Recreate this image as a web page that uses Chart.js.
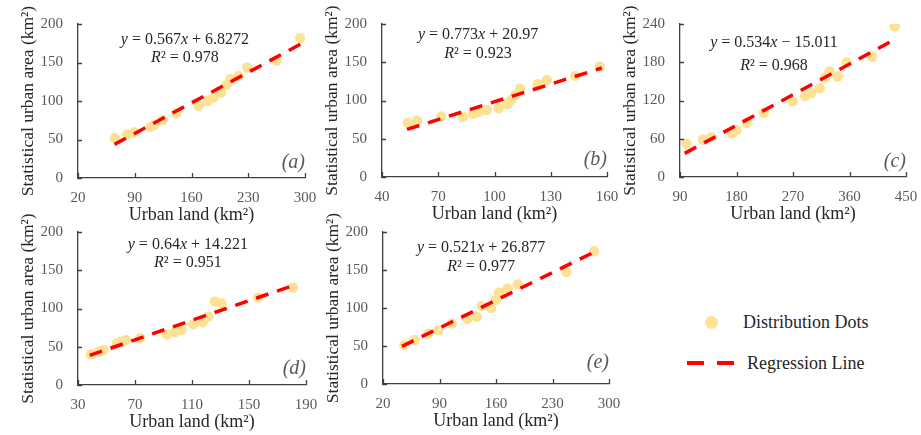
<!DOCTYPE html>
<html>
<head>
<meta charset="utf-8">
<script src="https://cdn.jsdelivr.net/npm/chart.js@4.4.0/dist/chart.umd.min.js"></script>
<style>
  body { margin: 0; background: #fff; }
  #wrap { position: relative; width: 921px; height: 435px; overflow: hidden; font-family: "Liberation Serif", "Times New Roman", serif; color: #262626; }
  canvas { position: absolute; }
  .lg { position: absolute; font-size: 18px; line-height: 20px; white-space: nowrap; }
  .dot { position: absolute; width: 13px; height: 13px; border-radius: 50%; background: #ffe194; }
  .dash { position: absolute; height: 4px; background: #ff0000; }
</style>
</head>
<body>
<div id="wrap">
  <canvas id="pa"></canvas>
  <canvas id="pb"></canvas>
  <canvas id="pc"></canvas>
  <canvas id="pd"></canvas>
  <canvas id="pe"></canvas>
  <div class="dot" style="left:705px; top:316px;"></div>
  <div class="lg" style="left:743px; top:312px;">Distribution Dots</div>
  <div class="dash" style="left:687px; top:361px; width:17px;"></div>
  <div class="dash" style="left:717px; top:361px; width:17px;"></div>
  <div class="lg" style="left:747px; top:353px;">Regression Line</div>
</div>
<script>
// (a)
const xA = [65.5, 80.8, 89.5, 109.7, 113.9, 124.6, 141.2, 168.9, 180, 187.5, 196.6, 203.2, 208.2, 218.1, 228.9, 264.8, 294.2];
const yA = [52, 56.5, 59.6, 66.5, 68.7, 75.2, 83.9, 93.9, 100, 104.8, 110.9, 120.9, 128.7, 132.6, 143.5, 152.2, 181.7];
const lineXA = [65, 295];
const lineYA = [43.7, 174.1];
const xTicksA = [20, 90, 160, 230, 300];
const yTicksA = [0, 50, 100, 150, 200];

// (b)
const xB = [53.7, 58.8, 71.6, 83.1, 88.5, 91.5, 95.9, 102.1, 106.6, 108.9, 111, 113.7, 123.1, 127.9, 143, 156.1];
const yB = [70.9, 73.5, 79.2, 78.8, 82.7, 84.9, 87.5, 89.7, 95.4, 100.6, 107.2, 115.5, 121.2, 126.9, 132.2, 144.4];
const lineXB = [53.3, 157.2];
const lineYB = [62.2, 142.5];
const xTicksB = [40, 70, 100, 130, 160];
const yTicksB = [0, 50, 100, 150, 200];

// (c)
const xC = [100.1, 126.7, 140, 173, 180, 196.5, 223.7, 269.5, 289.2, 298.8, 312.6, 321.1, 328, 341.3, 355.7, 395.6, 431.8];
const yC = [52.5, 58.8, 63, 68.3, 73.5, 85.1, 100.8, 118.2, 127.1, 131.3, 139.2, 156, 165.4, 157.6, 179.6, 189.1, 236.3];
const lineXC = [97.5, 427.6];
const lineYC = [37.1, 213.3];
const xTicksC = [90, 180, 270, 360, 450];
const yTicksC = [0, 60, 120, 180, 240];

// (d)
const xD = [39.1, 44.5, 48, 57.3, 60.8, 63.8, 73.6, 92.3, 98.1, 102.8, 110.9, 117.5, 121.4, 126.1, 130.7, 156.4, 180.9];
const yD = [40.2, 43.7, 45.9, 54.6, 56.8, 59, 61.1, 66.4, 69, 72, 79.5, 82.1, 89.5, 109.2, 107, 114.4, 127.5];
const lineXD = [38.2, 182];
const lineYD = [38.7, 130.7];
const xTicksD = [30, 70, 110, 150, 190];
const yTicksD = [0, 50, 100, 150, 200];

// (e)
const xE = [46.4, 59.1, 76.4, 88.8, 105.2, 124.6, 136.1, 142.3, 153.8, 159.6, 163.7, 174.4, 186.8, 247.3, 281.5];
const yE = [51.2, 57.8, 66.5, 70.9, 79.6, 85.3, 88.4, 102.8, 100.2, 110.3, 120.3, 125.6, 131.3, 147.5, 174.6];
const lineXE = [43.5, 279];
const lineYE = [49.5, 172.2];
const xTicksE = [20, 90, 160, 230, 300];
const yTicksE = [0, 50, 100, 150, 200];

const equations = ['y = 0.567x + 6.8272', 'y = 0.773x + 20.97', 'y = 0.534x \u2212 15.011', 'y = 0.64x + 14.221', 'y = 0.521x + 26.877'];
const rSquared = ['R\u00b2 = 0.978', 'R\u00b2 = 0.923', 'R\u00b2 = 0.968', 'R\u00b2 = 0.951', 'R\u00b2 = 0.977'];
const tags = ['(a)', '(b)', '(c)', '(d)', '(e)'];

const FONT = '"Liberation Serif", "Times New Roman", serif';
Chart.defaults.font.family = FONT;
const AXIS_W = 78, AXIS_H = 48, PAD_T = 24, PAD_R = 14;

// chart area boxes and text spots (layout only)
const panels = [
  { id: 'pa', area: [78, 24, 305, 178], x: xA, y: yA, lx: lineXA, ly: lineYA, xt: xTicksA, yt: yTicksA, eq: [0.471, 16, 34], tagDy: 15 },
  { id: 'pb', area: [382, 24, 607, 177], x: xB, y: yB, lx: lineXB, ly: lineYB, xt: xTicksB, yt: yTicksB, eq: [0.427, 11, 30], tagDy: 17 },
  { id: 'pc', area: [680, 24, 906, 177], x: xC, y: yC, lx: lineXC, ly: lineYC, xt: xTicksC, yt: yTicksC, eq: [0.416, 19, 41.5], tagDy: 15.5 },
  { id: 'pd', area: [78, 232, 306, 385], x: xD, y: yD, lx: lineXD, ly: lineYD, xt: xTicksD, yt: yTicksD, eq: [0.482, 12.5, 31], tagDy: 16.5 },
  { id: 'pe', area: [383, 232, 609, 384], x: xE, y: yE, lx: lineXE, ly: lineYE, xt: xTicksE, yt: yTicksE, eq: [0.434, 15.5, 34.5], tagDy: 21 }
];

function drawRich(ctx, text, cx, cy, size) {
  const parts = [];
  for (const ch of text) {
    const it = /[xyR]/.test(ch);
    const last = parts[parts.length - 1];
    if (last && last.it === it) last.t += ch; else parts.push({ t: ch, it });
  }
  const fn = size + 'px ' + FONT, fi = 'italic ' + fn;
  let w = 0;
  parts.forEach(p => { ctx.font = p.it ? fi : fn; p.w = ctx.measureText(p.t).width; w += p.w; });
  let x = cx - w / 2;
  ctx.textAlign = 'left';
  ctx.textBaseline = 'middle';
  ctx.fillStyle = '#262626';
  parts.forEach(p => { ctx.font = p.it ? fi : fn; ctx.fillText(p.t, x, cy); x += p.w; });
}

const extras = {
  id: 'extras',
  afterDraw(chart, args, opts) {
    const { ctx, chartArea: a } = chart;
    const xs = chart.scales.x, ys = chart.scales.y;
    ctx.save();
    // inward tick marks
    ctx.strokeStyle = '#404040';
    ctx.lineWidth = 1.3;
    ctx.beginPath();
    xs.ticks.forEach(t => {
      const px = Math.round(xs.getPixelForValue(t.value)) + 0.5;
      ctx.moveTo(px, a.bottom);
      ctx.lineTo(px, a.bottom - 5);
    });
    ys.ticks.forEach(t => {
      const py = Math.round(ys.getPixelForValue(t.value)) + 0.5;
      ctx.moveTo(a.left, py);
      ctx.lineTo(a.left + 4, py);
    });
    ctx.stroke();
    // equation text
    const cx = a.left + (a.right - a.left) * opts.eq[0];
    drawRich(ctx, opts.eqText, cx, a.top + opts.eq[1], 16);
    drawRich(ctx, opts.r2Text, cx, a.top + opts.eq[2], 16);
    // panel tag
    ctx.font = 'italic 20px ' + FONT;
    ctx.fillStyle = '#595959';
    ctx.textAlign = 'right';
    ctx.textBaseline = 'middle';
    ctx.fillText(opts.tag, a.right, a.bottom - opts.tagDy);
    ctx.restore();
  }
};

panels.forEach((p, i) => {
  const cv = document.getElementById(p.id);
  const [l, t, r, b] = p.area;
  const w = AXIS_W + (r - l) + PAD_R, h = PAD_T + (b - t) + AXIS_H;
  cv.width = w; cv.height = h;
  cv.style.width = w + 'px'; cv.style.height = h + 'px';
  cv.style.left = (l - AXIS_W) + 'px';
  cv.style.top = (t - PAD_T) + 'px';

  new Chart(cv, {
    type: 'scatter',
    data: {
      datasets: [
        {
          label: 'Regression Line',
          data: p.lx.map((v, k) => ({ x: v, y: p.ly[k] })),
          showLine: true,
          borderColor: '#ff0000',
          borderWidth: 3.5,
          borderDash: [13, 9],
          pointRadius: 0,
          fill: false,
          order: 0
        },
        {
          label: 'Distribution Dots',
          data: p.x.map((v, k) => ({ x: v, y: p.y[k] })),
          backgroundColor: '#ffe194',
          borderWidth: 0,
          pointRadius: 5.2,
          order: 1
        }
      ]
    },
    options: {
      responsive: false,
      animation: false,
      layout: { autoPadding: false, padding: { top: PAD_T, right: PAD_R, left: 0, bottom: 0 } },
      plugins: {
        legend: { display: false },
        tooltip: { enabled: false },
        extras: { eq: p.eq, eqText: equations[i], r2Text: rSquared[i], tag: tags[i], tagDy: p.tagDy }
      },
      scales: {
        x: {
          type: 'linear',
          min: p.xt[0],
          max: p.xt[p.xt.length - 1],
          afterBuildTicks: s => { s.ticks = p.xt.map(v => ({ value: v })); },
          afterFit: s => { s.height = AXIS_H; s.paddingLeft = 0; s.paddingRight = 0; },
          grid: { display: false, drawTicks: false },
          border: { color: '#404040', width: 1.3 },
          ticks: { font: { size: 15 }, color: '#595959', padding: 11, maxRotation: 0, autoSkip: false },
          title: { display: true, text: 'Urban land (km\u00b2)', font: { size: 18 }, color: '#262626', padding: 0 }
        },
        y: {
          type: 'linear',
          min: p.yt[0],
          max: p.yt[p.yt.length - 1],
          afterBuildTicks: s => { s.ticks = p.yt.map(v => ({ value: v })); },
          afterFit: s => { s.width = AXIS_W; s.paddingTop = 0; s.paddingBottom = 0; },
          grid: { display: false, drawTicks: false },
          border: { color: '#404040', width: 1.3 },
          ticks: { font: { size: 15 }, color: '#595959', padding: 15 },
          title: { display: true, text: 'Statistical urban area (km\u00b2)', font: { size: 17.5 }, color: '#262626', padding: { top: 18, bottom: 0 } }
        }
      }
    },
    plugins: [extras]
  });
});
</script>
</body>
</html>
